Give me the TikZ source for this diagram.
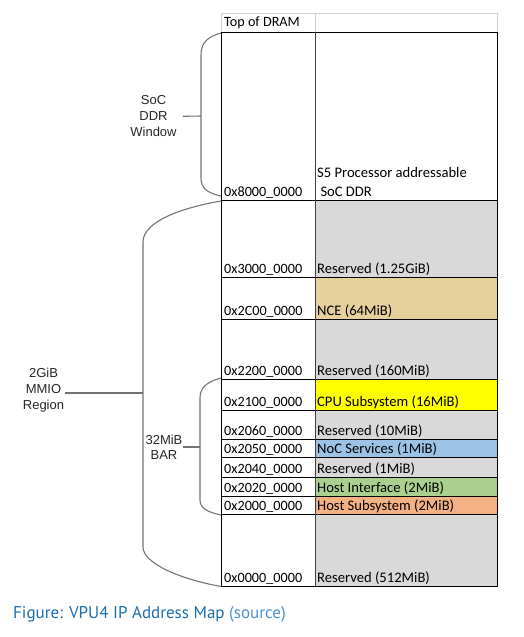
\documentclass[tikz,border=0pt]{standalone}
\usepackage{fontspec}
\setmainfont{Carlito}
\newfontfamily\arialfont{Liberation Sans}
\newfontfamily\captionfont{PT Sans}
\definecolor{cellgrey}{HTML}{D9D9D9}
\definecolor{ncetan}{HTML}{E6D19C}
\definecolor{cpuyellow}{HTML}{FFFF00}
\definecolor{nocblue}{HTML}{9CC2E5}
\definecolor{hostgreen}{HTML}{A9D08E}
\definecolor{hostorange}{HTML}{F4B183}
\definecolor{figblue}{HTML}{1C6CB0}
\definecolor{srcblue}{HTML}{4A90D4}
\tikzset{
  addr/.style={anchor=base west, inner sep=0pt, font=\fontsize{14.2}{17}\selectfont},
  regionlabel/.style={anchor=base west, inner sep=0pt, font=\fontsize{14.6}{17}\selectfont},
  bracelabel/.style={align=center, inner sep=0pt, text=black!85,
    font=\arialfont\fontsize{13}{16}\selectfont},
  brace/.style={draw=black!55, line width=1.1pt},
  rowline/.style={line width=0.9pt},
}
\begin{document}
\begin{tikzpicture}[x=1pt,y=-1pt]
            \useasboundingbox (0,0) rectangle (524,637);
            % header row
            \draw[black!18, line width=0.9pt] (221,13) rectangle (497.5,32);
            \draw[black!18, line width=0.9pt] (315,13) -- (315,32);
            \node[addr] (top) at (224,27) {Top of DRAM};
            % cell colours
            \fill[cellgrey] (315,200) rectangle (497.5,277);
            \fill[ncetan] (315,277) rectangle (497.5,319);
            \fill[cellgrey] (315,319) rectangle (497.5,379);
            \fill[cpuyellow] (315,379) rectangle (497.5,410);
            \fill[cellgrey] (315,410) rectangle (497.5,439);
            \fill[nocblue] (315,439) rectangle (497.5,457);
            \fill[cellgrey] (315,457) rectangle (497.5,477);
            \fill[hostgreen] (315,477) rectangle (497.5,496);
            \fill[hostorange] (315,496) rectangle (497.5,514);
            \fill[cellgrey] (315,514) rectangle (497.5,586);
            % row borders
            \draw[rowline] (221,32) rectangle (497.5,586);
            \foreach \y in {200,277,319,379,410,439,457,477,496,514}
              \draw[rowline] (221,\y) -- (497.5,\y);
            \draw[rowline, black!75] (315,32) -- (315,586);
            % addresses
            \node[addr] (a8000) at (224,196) {0x8000\_0000};
            \node[addr] (a3000) at (224,273) {0x3000\_0000};
            \node[addr] (a2c00) at (224,315) {0x2C00\_0000};
            \node[addr] (a2200) at (224,375) {0x2200\_0000};
            \node[addr] (a2100) at (224,406) {0x2100\_0000};
            \node[addr] (a2060) at (224,435) {0x2060\_0000};
            \node[addr] (a2050) at (224,453.5) {0x2050\_0000};
            \node[addr] (a2040) at (224,473) {0x2040\_0000};
            \node[addr] (a2020) at (224,492.5) {0x2020\_0000};
            \node[addr] (a2000) at (224,510.5) {0x2000\_0000};
            \node[addr] (a0000) at (224,582) {0x0000\_0000};
            % regions
            \node[regionlabel] (s5) at (317,177) {S5 Processor addressable};
            \node[regionlabel] (socddr) at (317,196) {\ SoC DDR};
            \node[regionlabel] (r3000) at (317,273) {Reserved (1.25GiB)};
            \node[regionlabel] (nce) at (317,315) {NCE (64MiB)};
            \node[regionlabel] (r2200) at (317,375) {Reserved (160MiB)};
            \node[regionlabel] (cpu) at (317,406) {CPU Subsystem (16MiB)};
            \node[regionlabel] (r2060) at (317,435) {Reserved (10MiB)};
            \node[regionlabel] (noc) at (317,453.5) {NoC Services (1MiB)};
            \node[regionlabel] (r2040) at (317,473) {Reserved (1MiB)};
            \node[regionlabel] (hif) at (317,492.5) {Host Interface (2MiB)};
            \node[regionlabel] (hss) at (317,510.5) {Host Subsystem (2MiB)};
            \node[regionlabel] (r0000) at (317,582) {Reserved (512MiB)};
            % braces
            \coordinate (soctop) at (221,33);
            \coordinate (socbot) at (221,196);
            \coordinate (socmid) at (201,116);
            \coordinate (mmiotop) at (221,201);
            \coordinate (mmiobot) at (221,586.5);
            \coordinate (mmiomid) at (143,393);
            \coordinate (bartop) at (221,378);
            \coordinate (barbot) at (221,515);
            \coordinate (barmid) at (200,447);
            \draw[brace] (soctop) .. controls (207,37) and (201,43) .. (201,55)
              -- (201,178) .. controls (201,188) and (207,193) .. (socbot);
            \draw[brace] (mmiotop) .. controls (180,208) and (143,222) .. (143,242)
              -- (143,547) .. controls (143,562) and (175,578) .. (mmiobot);
            \draw[brace] (bartop) .. controls (206,382) and (200,388) .. (200,398)
              -- (200,500) .. controls (200,508) and (207,512) .. (barbot);
            \node[bracelabel] (soc) at (153.5,116.3) {SoC\\DDR\\Window};
            \node[bracelabel] (mmio) at (43.5,390.5) {2GiB\\MMIO\\Region};
            \node[bracelabel, font=\arialfont\fontsize{13}{15}\selectfont] (bar) at (164,447) {32MiB\\BAR};
            \draw[brace] ([xshift=6pt]soc.east) -- (socmid);
            \draw[brace] ([xshift=1pt,yshift=-2.5pt]mmio.east) -- (mmiomid);
            \draw[brace] (bar.east) -- (barmid);
            % caption
            \node[anchor=base west, inner sep=0pt, font=\captionfont\fontsize{17}{20}\selectfont]
              (caption) at (13,618) {\textcolor{figblue}{Figure: VPU4 IP Address Map} \textcolor{srcblue}{(source)}};
        \end{tikzpicture}
\end{document}
